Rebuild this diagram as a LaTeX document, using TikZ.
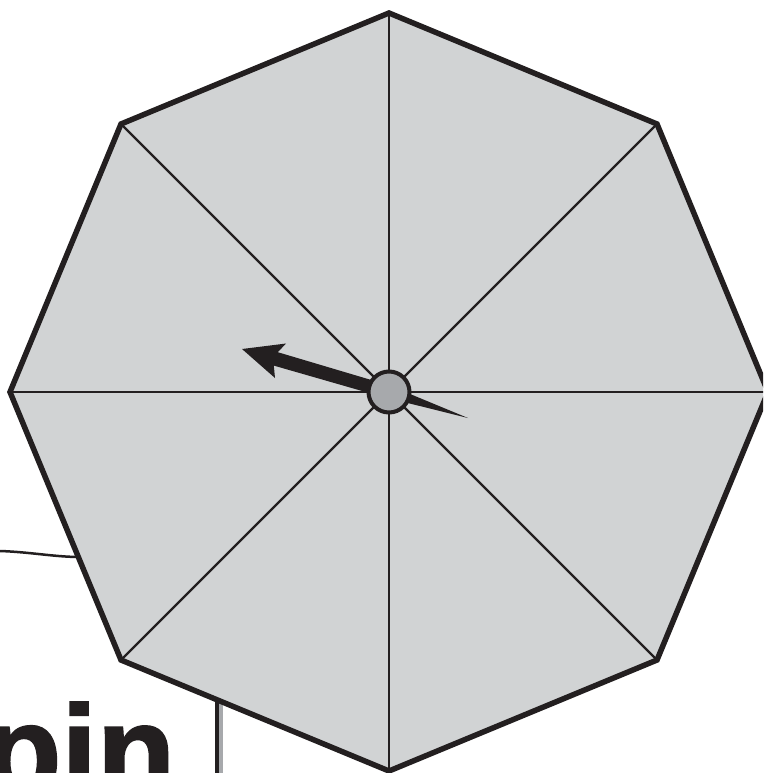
\documentclass[tikz,border=0pt]{standalone}
\usepackage{fontspec}
\newfontfamily\pinfont{Liberation Sans}[BoldFeatures={FakeBold=1.6}]
\definecolor{ink}{RGB}{35,31,32}
\definecolor{panel}{RGB}{209,211,212}
\definecolor{hub}{RGB}{167,169,172}
\begin{document}
\begin{tikzpicture}[x=1pt,y=-1pt,
  rim/.style={draw=ink,line width=5.5pt,line join=miter,fill=panel},
  spoke/.style={draw=ink,line width=2.2pt},
  needle/.style={fill=ink,draw=none},
  hubstyle/.style={circle,draw=ink,line width=4pt,fill=hub,minimum size=41pt,inner sep=0pt}]
\useasboundingbox (0,0) rectangle (763,773);
\clip (0,0) rectangle (763,773);
\fill[white] (0,0) rectangle (763,773);
% text
\node[anchor=base west,inner sep=0pt,text=ink,font=\pinfont\bfseries\fontsize{128}{128}\selectfont] (word) at (-17,795) {pin};
% left curve
\coordinate (cs) at (0,551);
\coordinate (ce) at (80,557);
\draw[ink,line width=2.5pt] (cs) .. controls (30,552) and (55,557) .. (ce);
% pole
\fill[hub] (218.5,690) rectangle (223,780);
\fill[ink] (215,690) rectangle (218.5,780);
% octagon
\coordinate (c) at (389,392);
\coordinate (v0) at (389,13);
\coordinate (v1) at (657,124);
\coordinate (v2) at (768,392);
\coordinate (v3) at (657,660);
\coordinate (v4) at (389,771);
\coordinate (v5) at (121,660);
\coordinate (v6) at (10,392);
\coordinate (v7) at (121,124);
\path[rim] (v0) -- (v1) -- (v2) -- (v3) -- (v4) -- (v5) -- (v6) -- (v7) -- cycle;
\foreach \k in {0,...,7} {\draw[spoke] (c) -- (v\k);}
% pointer
\fill[needle] (242,349) -- (286,343.5) -- (277.8,352.2) -- (390.8,385.8) -- (387.2,398.2) -- (273.8,365.6) -- (275,378) -- cycle;
% tail
\fill[needle] (391.2,386.2) -- (468,418) -- (386.8,397.8) -- cycle;
% hub
\node[hubstyle] (hubnode) at (c) {};
\end{tikzpicture}
\end{document}
